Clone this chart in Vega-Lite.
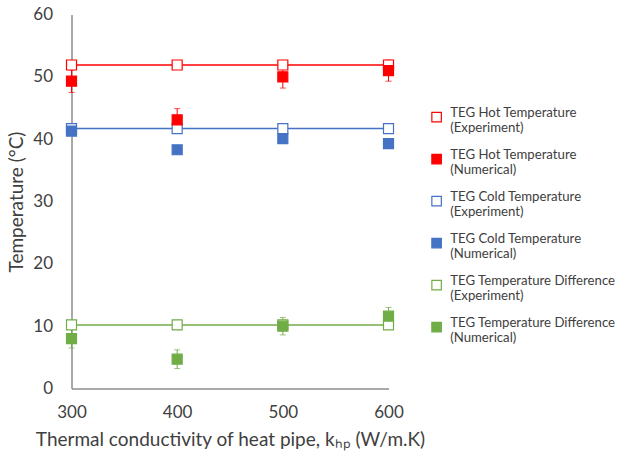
{
  "$schema": "https://vega.github.io/schema/vega-lite/v6.json",
  "width": 317,
  "height": 374,
  "autosize": {"type": "none"},
  "padding": {"left": 71.5, "top": 14.5, "right": 233.5, "bottom": 65.5},
  "background": "white",
  "config": {
    "font": "Lato",
    "view": {"stroke": null},
    "axis": {
      "grid": false,
      "ticks": false,
      "domainColor": "#8c8c8c",
      "domainWidth": 1.5,
      "labelColor": "#404040",
      "titleColor": "#404040",
      "labelFont": "Lato",
      "titleFont": "Lato",
      "labelFontSize": 17,
      "titleFontSize": 19,
      "titleFontWeight": "normal"
    },
    "legend": {
      "orient": "none",
      "legendX": 358.5,
      "legendY": 96,
      "title": null,
      "labelFont": "Lato",
      "labelFontSize": 13.2,
      "labelColor": "#404040",
      "labelLimit": 300,
      "symbolSize": 90,
      "labelOffset": 7,
      "rowPadding": 13,
      "symbolStrokeWidth": 1.2,
      "labelBaseline": "alphabetic"
    }
  },
  "data": {
    "values": [
      {"k": 300, "series": "TEG Hot Temperature (Experiment)", "type": "Experiment", "value": 51.9, "err": 0},
      {"k": 400, "series": "TEG Hot Temperature (Experiment)", "type": "Experiment", "value": 51.9, "err": 0},
      {"k": 500, "series": "TEG Hot Temperature (Experiment)", "type": "Experiment", "value": 51.9, "err": 0},
      {"k": 600, "series": "TEG Hot Temperature (Experiment)", "type": "Experiment", "value": 51.9, "err": 0},
      {"k": 300, "series": "TEG Cold Temperature (Experiment)", "type": "Experiment", "value": 41.7, "err": 0},
      {"k": 400, "series": "TEG Cold Temperature (Experiment)", "type": "Experiment", "value": 41.7, "err": 0},
      {"k": 500, "series": "TEG Cold Temperature (Experiment)", "type": "Experiment", "value": 41.7, "err": 0},
      {"k": 600, "series": "TEG Cold Temperature (Experiment)", "type": "Experiment", "value": 41.7, "err": 0},
      {"k": 300, "series": "TEG Temperature Difference (Experiment)", "type": "Experiment", "value": 10.2, "err": 0},
      {"k": 400, "series": "TEG Temperature Difference (Experiment)", "type": "Experiment", "value": 10.2, "err": 0},
      {"k": 500, "series": "TEG Temperature Difference (Experiment)", "type": "Experiment", "value": 10.2, "err": 0},
      {"k": 600, "series": "TEG Temperature Difference (Experiment)", "type": "Experiment", "value": 10.2, "err": 0},
      {"k": 300, "series": "TEG Hot Temperature (Numerical)", "type": "Numerical", "value": 49.3, "err": 1.8},
      {"k": 400, "series": "TEG Hot Temperature (Numerical)", "type": "Numerical", "value": 43.1, "err": 1.8},
      {"k": 500, "series": "TEG Hot Temperature (Numerical)", "type": "Numerical", "value": 50.0, "err": 1.8},
      {"k": 600, "series": "TEG Hot Temperature (Numerical)", "type": "Numerical", "value": 51.0, "err": 1.7},
      {"k": 300, "series": "TEG Cold Temperature (Numerical)", "type": "Numerical", "value": 41.3, "err": 0},
      {"k": 400, "series": "TEG Cold Temperature (Numerical)", "type": "Numerical", "value": 38.3, "err": 0},
      {"k": 500, "series": "TEG Cold Temperature (Numerical)", "type": "Numerical", "value": 40.1, "err": 0},
      {"k": 600, "series": "TEG Cold Temperature (Numerical)", "type": "Numerical", "value": 39.3, "err": 0},
      {"k": 300, "series": "TEG Temperature Difference (Numerical)", "type": "Numerical", "value": 8.0, "err": 1.5},
      {"k": 400, "series": "TEG Temperature Difference (Numerical)", "type": "Numerical", "value": 4.7, "err": 1.5},
      {"k": 500, "series": "TEG Temperature Difference (Numerical)", "type": "Numerical", "value": 10.0, "err": 1.4},
      {"k": 600, "series": "TEG Temperature Difference (Numerical)", "type": "Numerical", "value": 11.6, "err": 1.4}
    ]
  },
  "encoding": {
    "x": {
      "field": "k",
      "type": "quantitative",
      "scale": {"domain": [300, 600], "nice": false, "zero": false},
      "axis": {
        "values": [300, 400, 500, 600],
        "title": "Thermal conductivity of heat pipe, kₕₚ (W/m.K)",
        "labelPadding": 16,
        "titlePadding": 10,
        "labelFlush": false
      }
    },
    "y": {
      "field": "value",
      "type": "quantitative",
      "scale": {"domain": [0, 60], "nice": false},
      "axis": {
        "values": [0, 10, 20, 30, 40, 50, 60],
        "title": "Temperature (°C)",
        "labelPadding": 19,
        "titlePadding": 6
      }
    }
  },
  "layer": [
    {
      "transform": [{"filter": "datum.type == 'Experiment'"}],
      "mark": {"type": "line", "strokeWidth": 1.5},
      "encoding": {
        "color": {
          "field": "series",
          "type": "nominal",
          "scale": {
            "domain": ["TEG Hot Temperature (Experiment)", "TEG Cold Temperature (Experiment)", "TEG Temperature Difference (Experiment)", "TEG Hot Temperature (Numerical)", "TEG Cold Temperature (Numerical)", "TEG Temperature Difference (Numerical)"],
            "range": ["#ff0000", "#4472c4", "#70ad47", "#ff0000", "#4472c4", "#70ad47"]
          },
          "legend": null
        }
      }
    },
    {
      "transform": [{"filter": "datum.err > 0"}],
      "mark": {"type": "errorbar", "ticks": {"size": 6}, "thickness": 1},
      "encoding": {
        "yError": {"field": "err"},
        "color": {
          "field": "series",
          "type": "nominal",
          "scale": {
            "domain": ["TEG Hot Temperature (Experiment)", "TEG Cold Temperature (Experiment)", "TEG Temperature Difference (Experiment)", "TEG Hot Temperature (Numerical)", "TEG Cold Temperature (Numerical)", "TEG Temperature Difference (Numerical)"],
            "range": ["#ff0000", "#4472c4", "#70ad47", "#ff0000", "#4472c4", "#70ad47"]
          },
          "legend": null
        }
      }
    },
    {
      "mark": {"type": "point", "shape": "square", "size": 100, "strokeWidth": 1.2, "opacity": 1, "filled": false},
      "encoding": {
        "stroke": {
          "field": "series",
          "type": "nominal",
          "scale": {
            "domain": ["TEG Hot Temperature (Experiment)", "TEG Hot Temperature (Numerical)", "TEG Cold Temperature (Experiment)", "TEG Cold Temperature (Numerical)", "TEG Temperature Difference (Experiment)", "TEG Temperature Difference (Numerical)"],
            "range": ["#ff0000", "#ff0000", "#4472c4", "#4472c4", "#70ad47", "#70ad47"]
          },
          "legend": {
            "labelExpr": "split(replace(datum.label, ' (', '|('), '|')"
          }
        },
        "fill": {
          "field": "series",
          "type": "nominal",
          "scale": {
            "domain": ["TEG Hot Temperature (Experiment)", "TEG Hot Temperature (Numerical)", "TEG Cold Temperature (Experiment)", "TEG Cold Temperature (Numerical)", "TEG Temperature Difference (Experiment)", "TEG Temperature Difference (Numerical)"],
            "range": ["#ffffff", "#ff0000", "#ffffff", "#4472c4", "#ffffff", "#70ad47"]
          },
          "legend": {
            "labelExpr": "split(replace(datum.label, ' (', '|('), '|')"
          }
        }
      }
    }
  ]
}
